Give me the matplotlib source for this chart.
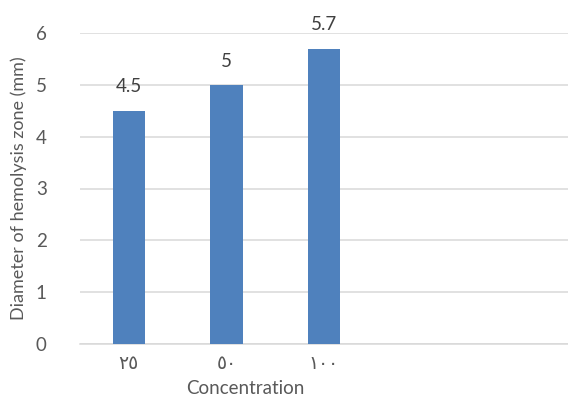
import matplotlib
matplotlib.use("Agg")
import matplotlib.pyplot as plt

# Hemolysis zone diameter by concentration
categories = ["٢٥", "٥٠", "١٠٠", "", ""]
values = [4.5, 5.0, 5.7]
value_labels = ["4.5", "5", "5.7"]
y_ticks = [0, 1, 2, 3, 4, 5, 6]

text_color = "#595959"
grid_color = "#d9d9d9"
bar_color = "#4f81bd"
font = ["Lato", "DejaVu Sans"]

fig = plt.figure(figsize=(5.68, 3.99), dpi=100)
ax = fig.add_axes([80 / 568, 1 - 344 / 399, 1 - 80 / 568, (344 - 33) / 399])

x = list(range(len(values)))
bars = ax.bar(x, values, width=0.33, color=bar_color, zorder=3)

for xi, v, lab in zip(x, values, value_labels):
    ax.annotate(lab, (xi, v), xytext=(0, 11), textcoords="offset points",
                ha="center", va="bottom", fontsize=13.5, color="#404040",
                family=font, clip_on=False)

ax.set_xlim(-0.5, len(categories) - 0.5)
ax.set_ylim(0, 6)
ax.set_yticks(y_ticks)
ax.set_yticklabels([str(t) for t in y_ticks], family=font, fontsize=13.5, color=text_color)
ax.set_xticks(range(len(categories)))
ax.set_xticklabels(categories, family=["DejaVu Sans"], fontsize=13.5, color=text_color)
ax.tick_params(axis="both", length=0)
ax.tick_params(axis="y", pad=24)
ax.tick_params(axis="x", pad=7)

ax.grid(axis="y", color=grid_color, linewidth=1.1, zorder=0)
for s in ["top", "right", "left"]:
    ax.spines[s].set_visible(False)
ax.spines["bottom"].set_color(grid_color)
ax.spines["bottom"].set_linewidth(1.1)

ax.set_ylabel("Diameter of hemolysis zone (mm)", family=font, fontsize=13,
              color=text_color, labelpad=6)
fig.text(245 / 568, 1 - 389 / 399, "Concentration", family=font, fontsize=13.5,
         color=text_color, ha="center", va="center")

fig.savefig("out.png", dpi=100)
